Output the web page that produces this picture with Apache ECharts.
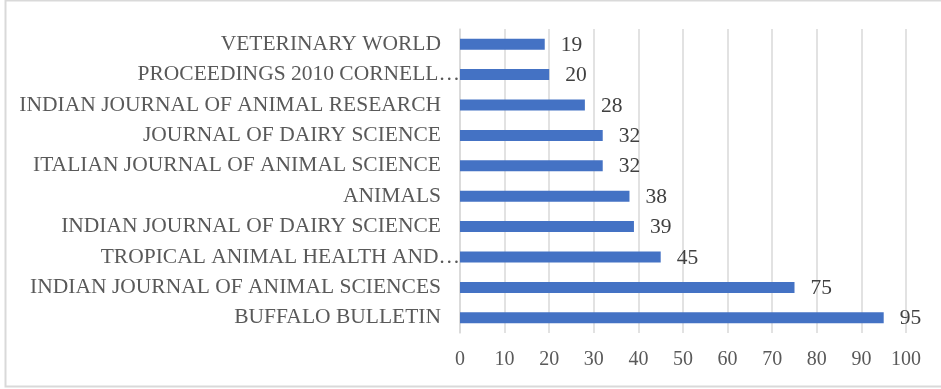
<!DOCTYPE html>
<html>
<head>
<meta charset="utf-8">
<script src="https://cdn.jsdelivr.net/npm/echarts@6/dist/echarts.min.js"></script>
<style>
  html, body { margin: 0; padding: 0; background: #fff; }
  #chart { width: 941px; height: 389px; }
</style>
</head>
<body>
<div id="chart"></div>
<script>
// journals, bottom to top as drawn
const journals = [
    'BUFFALO BULLETIN',
    'INDIAN JOURNAL OF ANIMAL SCIENCES',
    'TROPICAL ANIMAL HEALTH AND…',
    'INDIAN JOURNAL OF DAIRY SCIENCE',
    'ANIMALS',
    'ITALIAN JOURNAL OF ANIMAL SCIENCE',
    'JOURNAL OF DAIRY SCIENCE',
    'INDIAN JOURNAL OF ANIMAL RESEARCH',
    'PROCEEDINGS 2010 CORNELL…',
    'VETERINARY WORLD'
];
const articleCounts = [95, 75, 45, 39, 38, 32, 32, 28, 20, 19];

const chartDom = document.getElementById('chart');
const myChart = echarts.init(chartDom);
const font = '"Liberation Serif", "Times New Roman", serif';

const option = {
    animation: false,
    graphic: [
        {
            type: 'rect',
            shape: { x: 5.5, y: 0.5, width: 960, height: 386 },
            style: { fill: 'none', stroke: '#d9d9d9', lineWidth: 2 }
        }
    ],
    grid: {
        left: 460,
        right: 35,
        top: 29,
        bottom: 56
    },
    xAxis: {
        type: 'value',
        min: 0,
        max: 100,
        interval: 10,
        axisLine: { show: false },
        axisTick: { show: false },
        axisLabel: {
            margin: 17,
            fontFamily: font,
            fontSize: 20,
            color: '#595959'
        },
        splitLine: {
            lineStyle: { color: '#d9d9d9', width: 1.5 }
        }
    },
    yAxis: {
        type: 'category',
        data: journals,
        axisLine: { lineStyle: { color: '#d9d9d9', width: 1.5 } },
        axisTick: { show: false },
        axisLabel: {
            margin: 0,
            fontFamily: font,
            fontSize: 21.5,
            color: '#595959',
            formatter: function (v) {
                return v.endsWith('…') ? v : v + '{s| }';
            },
            rich: {
                s: { width: 19 }
            }
        }
    },
    series: [
        {
            type: 'bar',
            data: articleCounts,
            barWidth: 11,
            itemStyle: { color: '#4472C4' },
            label: {
                show: true,
                position: 'right',
                distance: 16,
                fontFamily: font,
                fontSize: 21.5,
                color: '#404040',
                offset: [0, 1]
            }
        }
    ]
};

myChart.setOption(option);

window.addEventListener('resize', () => {
    myChart.resize();
});
</script>
</body>
</html>
